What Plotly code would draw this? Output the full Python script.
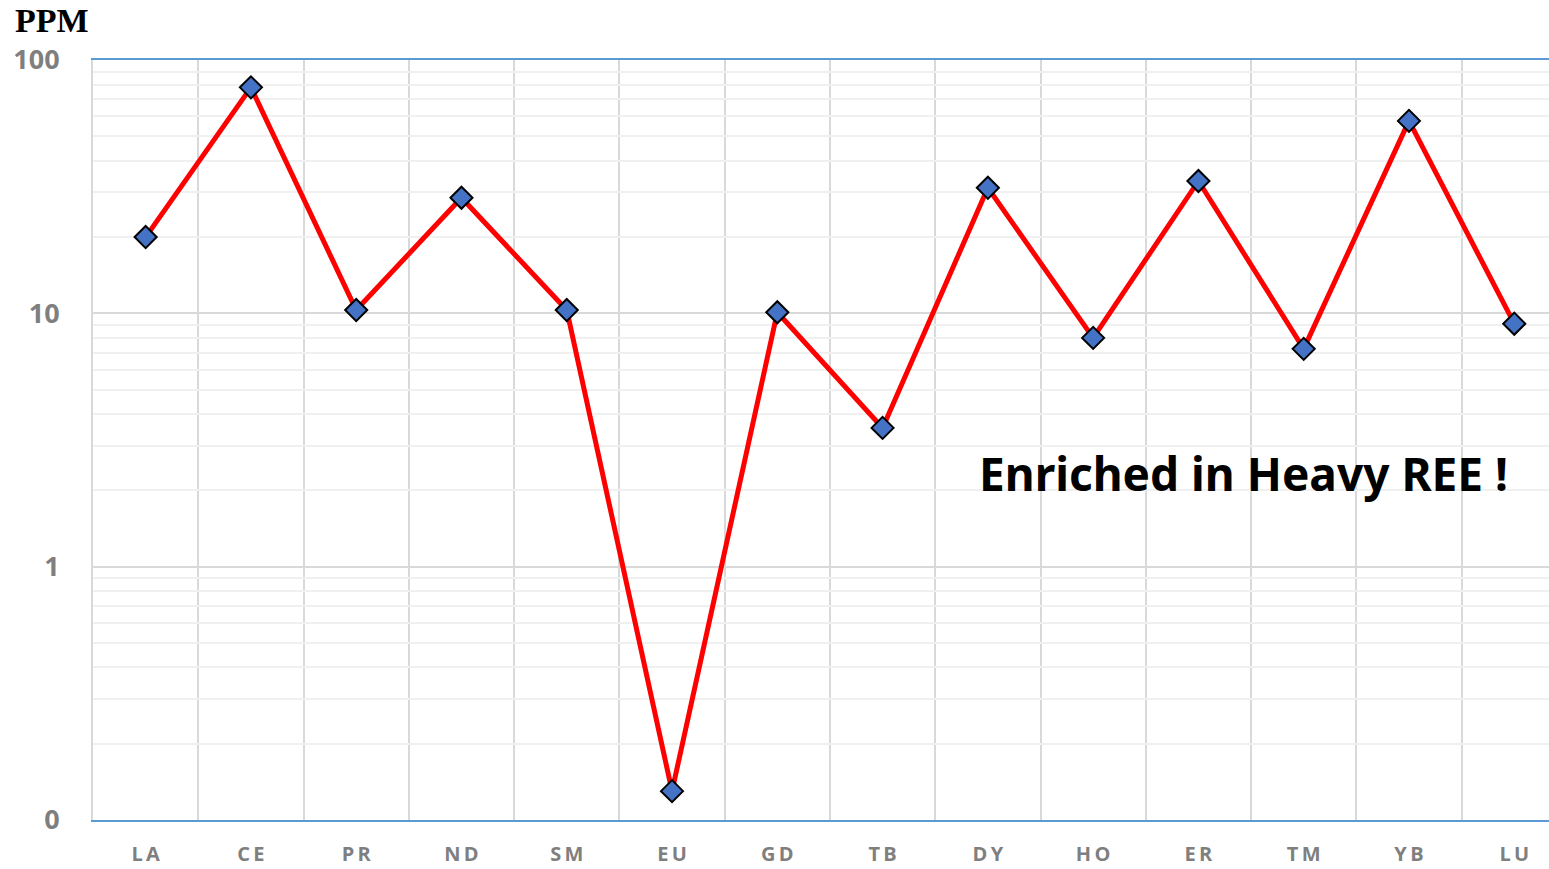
import plotly.graph_objects as go

# REE concentrations (ppm)
elements = ['LA', 'CE', 'PR', 'ND', 'SM', 'EU', 'GD', 'TB', 'DY', 'HO', 'ER', 'TM', 'YB', 'LU']
ppm = [20.0, 78.0, 10.3, 28.6, 10.3, 0.13, 10.1, 3.53, 31.3, 8.0, 33.3, 7.24, 57.5, 9.1]

y_tick_vals = [0.1, 1, 10, 100]
y_tick_text = ['0', '1', '10', '100']

note = 'Enriched in Heavy REE !'


def spaced(label):
    # the category labels are drawn letter-spaced
    return '\u2009'.join(label)


x_pos = list(range(len(elements)))

fig = go.Figure()

fig.add_trace(
    go.Scatter(
        x=x_pos,
        y=ppm,
        mode='lines+markers',
        line=dict(color='#ff0000', width=5),
        marker=dict(symbol='diamond', size=17, color='#4472c4',
                    line=dict(color='black', width=2)),
        showlegend=False,
        cliponaxis=False,
    )
)

minor_y = [m * 10 ** e for e in (-1, 0, 1) for m in range(2, 10)]

fig.update_xaxes(
    range=[-0.5, len(elements) - 0.67],
    tickvals=x_pos,
    ticktext=[spaced(e) for e in elements],
    tickfont=dict(family='Open Sans', size=20, color='#7f7f7f', weight='bold'),
    ticklabelstandoff=15,
    automargin=False,
    showgrid=False,
    zeroline=False,
    showline=True,
    linecolor='#5b9bd5',
    linewidth=2,
    mirror=True,
    minor=dict(tickvals=[i + 0.5 for i in x_pos[:-1]], showgrid=True,
               gridcolor='#d9d9d9', gridwidth=2),
)

fig.update_yaxes(
    type='log',
    range=[-1, 2],
    tickvals=y_tick_vals,
    ticktext=y_tick_text,
    tickfont=dict(family='Open Sans', size=27, color='#7f7f7f', weight='bold'),
    ticklabelstandoff=26,
    automargin=False,
    showgrid=True,
    gridcolor='#d9d9d9',
    gridwidth=2,
    zeroline=False,
    showline=True,
    linecolor='#d9d9d9',
    linewidth=2,
    minor=dict(tickvals=minor_y, showgrid=True, gridcolor='#f0f0f0', gridwidth=2),
)

fig.add_annotation(
    text='PPM', xref='paper', yref='paper', x=-0.028, y=1.052,
    xanchor='center', yanchor='middle', showarrow=False,
    font=dict(family='Liberation Serif', size=34, color='black', weight='bold'),
)

fig.add_annotation(
    text=note, xref='paper', yref='paper', x=0.79, y=0.456,
    xanchor='center', yanchor='middle', showarrow=False,
    font=dict(family='Noto Sans', size=46, color='black', weight='bold'),
)

fig.update_layout(
    width=1549,
    height=869,
    margin=dict(l=93, r=0, t=60, b=49),
    plot_bgcolor='white',
    paper_bgcolor='white',
)

fig.write_html(
    'out.html',
    config={'displayModeBar': False},
    post_script="document.body.style.margin='0';document.body.style.overflow='hidden';",
)
